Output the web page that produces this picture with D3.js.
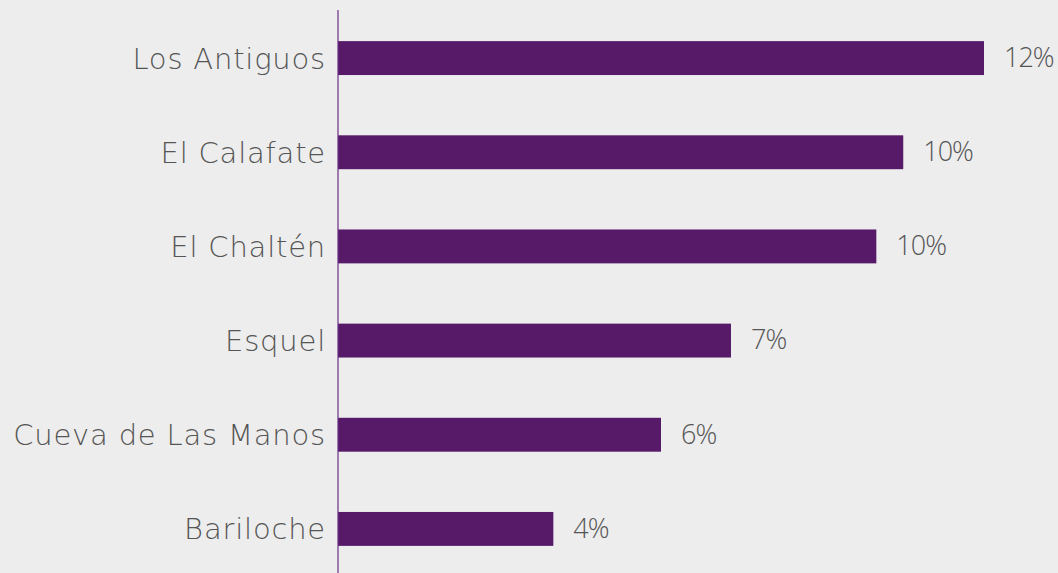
<!DOCTYPE html>
<html>
<head>
<meta charset="utf-8">
<script src="https://cdn.jsdelivr.net/npm/d3@7"></script>
<style>
  html, body { margin: 0; padding: 0; background: #ededed; }
  svg { display: block; }
  text { font-family: "Open Sans", sans-serif; font-weight: 300; fill: #555555; }
</style>
</head>
<body>
<div class="barchart"></div>
<script>
// DATA ------------------------------
const places = ["Los Antiguos", "El Calafate", "El Chaltén", "Esquel", "Cueva de Las Manos", "Bariloche"];
const shares = [0.12, 0.105, 0.10, 0.073, 0.06, 0.04];
const shareLabels = ["12%", "10%", "10%", "7%", "6%", "4%"];

const data = places.map((p, i) => ({place: p, share: shares[i], label: shareLabels[i]}));

const width = 1058, height = 573;
const axisX = 338;

const svg = d3.select(".barchart")
    .append("svg")
    .attr("width", width)
    .attr("height", height);

// scales
const xScale = d3.scaleLinear()
    .domain([0, 0.12])
    .range([axisX, 984]);

const yScale = d3.scaleBand()
    .domain(places)
    .range([11, 576])
    .paddingInner(0.64)
    .paddingOuter(0.32);

// bars
svg.selectAll("rect")
    .data(data)
    .enter()
    .append("rect")
    .attr("x", xScale(0))
    .attr("y", d => yScale(d.place))
    .attr("width", d => xScale(d.share) - xScale(0))
    .attr("height", yScale.bandwidth())
    .attr("fill", "#561a69");

// value labels
svg.selectAll(".val")
    .data(data)
    .enter()
    .append("text")
    .attr("class", "val")
    .attr("x", d => xScale(d.share) + 20)
    .attr("y", d => yScale(d.place) + yScale.bandwidth() / 2)
    .attr("dy", "0.33em")
    .style("font-size", "27px")
    .style("letter-spacing", "-1px")
    .text(d => d.label);

// category axis
const yAxis = d3.axisLeft(yScale).tickSize(0).tickPadding(12);
const gy = svg.append("g")
    .attr("transform", `translate(${axisX},0)`)
    .call(yAxis);
gy.select(".domain").remove();
gy.selectAll("text")
    .attr("fill", "#555555")
    .attr("dy", "0.36em")
    .style("font-size", "29px")
    .style("letter-spacing", "0.8px")
    .style("font-family", "'DejaVu Sans', sans-serif")
    .style("font-weight", 200);

svg.append("line")
    .attr("x1", axisX).attr("x2", axisX)
    .attr("y1", 10).attr("y2", height)
    .attr("stroke", "#6b2d80")
    .attr("stroke-width", 1.2);
</script>
</body>
</html>
